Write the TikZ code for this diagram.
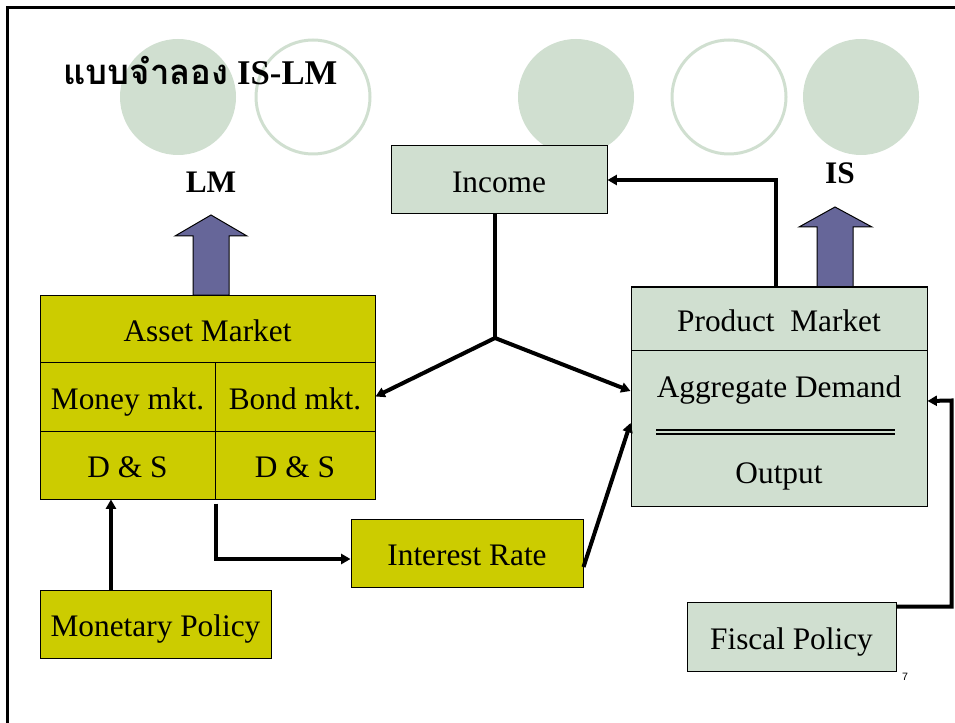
\documentclass[tikz,border=0pt]{standalone}
\usepackage{fontspec}
\setmainfont{Liberation Serif}
\setsansfont{Liberation Sans}
\newfontfamily\thaifont[Script=Thai]{Loma}
\usetikzlibrary{arrows.meta}

\definecolor{boxgreen}{RGB}{208,223,208}
\definecolor{boxyellow}{RGB}{204,204,0}
\definecolor{arrowblue}{RGB}{102,102,153}

\tikzset{every picture/.style={line width=0.75pt}}
\tikzset{
	cell/.style={draw, inner sep=0pt, text height=23pt, text depth=4pt, font=\fontsize{23.5}{28}\selectfont},
	greencell/.style={cell, fill=boxgreen},
	yellowcell/.style={cell, fill=boxyellow},
	conn/.style={line width=3pt, -{Triangle[length=7pt,width=7.5pt]}},
	bigarrow/.style={draw, fill=arrowblue, line width=0.75pt},
	curvelabel/.style={font=\fontsize{23.5}{28}\selectfont\bfseries},
}

\begin{document}
\begin{tikzpicture}[x=0.75pt,y=0.75pt,yscale=-1,xscale=1]
		\useasboundingbox (0,0) rectangle (955,723);

		%frame
		\draw [line width=2.25pt] (7,723) -- (7,8) -- (955,8) ;

		%circles
		\fill [boxgreen] (178,97) circle [radius=58] ;
		\draw [boxgreen, line width=2.25pt] (313,97) circle [radius=57] ;
		\fill [boxgreen] (576,97) circle [radius=58] ;
		\draw [boxgreen, line width=2.25pt] (729,97) circle [radius=57] ;
		\fill [boxgreen] (861,97) circle [radius=58] ;

		\node (title) [anchor=base west, inner sep=0pt] at (63,85) {\fontsize{26}{30}\selectfont\bfseries{\thaifont แบบจำลอง} IS-LM};

		%block arrows
		\draw [bigarrow] (193,295) -- (193,236) -- (175,236) -- (211,215) -- (247,236) -- (229,236) -- (229,295) -- cycle ;
		\draw [bigarrow] (817,287) -- (817,227) -- (799,227) -- (835,207) -- (872,227) -- (853,227) -- (853,287) -- cycle ;
		\node (lm) [curvelabel] at (211,182) {LM};
		\node (is) [curvelabel] at (840,173) {IS};

		%asset market
		\node (asset) [yellowcell, minimum width=251.25pt, minimum height=50.25pt] at (207.5,328.5) {Asset Market};
		\node (money) [yellowcell, minimum width=131.25pt, minimum height=51.75pt] at (127.5,396.5) {Money mkt.};
		\node (bond) [yellowcell, minimum width=120pt, minimum height=51.75pt] at (295,396.5) {Bond mkt.};
		\node (dsm) [yellowcell, minimum width=131.25pt, minimum height=51pt] at (127.5,465) {D \& S};
		\node (dsb) [yellowcell, minimum width=120pt, minimum height=51pt] at (295,465) {D \& S};

		%product market
		\node (prodtop) [greencell, minimum width=222pt, minimum height=47.25pt] at (779,318.5) {Product\ \ Market};
		\node (prodlow) [greencell, minimum width=222pt, minimum height=117pt] at (779,428) {};
		\node (demand) [cell, draw=none] at (779,385) {Aggregate Demand};
		\node (output) [cell, draw=none] at (779,471) {Output};
		\draw [line width=1.1pt] (656,430) -- (895,430) ;
		\draw [line width=1.1pt] (656,434) -- (895,434) ;

		\node (income) [greencell, minimum width=162pt, minimum height=51pt] at (499,180) {Income};
		\node (interest) [yellowcell, minimum width=174pt, minimum height=51pt] at (467,553) {Interest Rate};
		\node (monetary) [yellowcell, minimum width=173.25pt, minimum height=51pt] at (155.5,624) {Monetary Policy};
		\node (fiscal) [greencell, minimum width=156.75pt, minimum height=51.75pt] at (791.5,636.5) {Fiscal Policy};

		\node (pagenum) [font=\fontsize{8}{9}\sffamily] at (905,677) {7};

		%connectors
		\coordinate (split) at (495,338);
		\draw [line width=3pt] (split |- income.south) -- (split) ;
		\draw [conn] (split) -- (bond.east) ;
		\draw [conn] (split) -- ([yshift=-27.75pt]prodlow.west) ;
		\draw [conn] ([xshift=-2.25pt]prodtop.north) |- (income.east) ;
		\coordinate (mpout) at ([xshift=-33.4pt]monetary.north);
		\draw [conn] (mpout) -- (mpout |- dsm.south) ;
		\draw [conn] ([yshift=3pt]dsm.south east) |- ([yshift=4.5pt]interest.west) ;
		\draw [conn] ([yshift=10.5pt]interest.east) -- ([yshift=-3.75pt]prodlow.west) ;
		\draw [conn] ([yshift=3.75pt]fiscal.north east) -| ++(55,-206) -- ([yshift=-20.25pt]prodlow.east) ;

\end{tikzpicture}
\end{document}
